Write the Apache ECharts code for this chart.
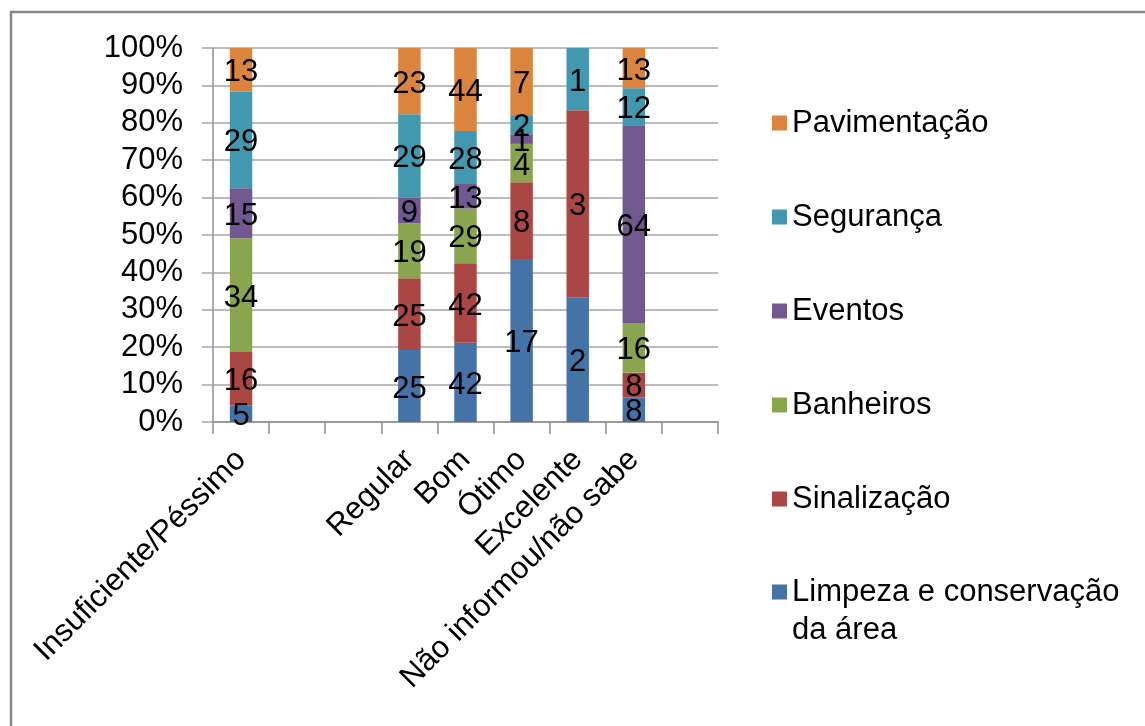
<!DOCTYPE html>
<html>
<head>
<meta charset="utf-8">
<script src="https://cdn.jsdelivr.net/npm/echarts@6/dist/echarts.min.js"></script>
<style>
  html, body { margin: 0; padding: 0; background: #ffffff; }
  #chart { width: 1145px; height: 726px; }
</style>
</head>
<body>
<div id="chart"></div>
<script>
// Ratings (blank slots keep the gap after the first group)
const categories = ['Insuficiente/Péssimo', '', '', 'Regular', 'Bom', 'Ótimo', 'Excelente', 'Não informou/não sabe', ''];

// Counts per aspect, one entry per rating (null = empty slot)
const limpeza      = [5,  null, null, 25, 42, 17, 2, 8,  null];
const sinalizacao  = [16, null, null, 25, 42, 8,  3, 8,  null];
const banheiros    = [34, null, null, 19, 29, 4,  0, 16, null];
const eventos      = [15, null, null, 9,  13, 1,  0, 64, null];
const seguranca    = [29, null, null, 29, 28, 2,  1, 12, null];
const pavimentacao = [13, null, null, 23, 44, 7,  0, 13, null];

const seriesNames = ['Limpeza e conservação da área', 'Sinalização', 'Banheiros', 'Eventos', 'Segurança', 'Pavimentação'];
const seriesCounts = [limpeza, sinalizacao, banheiros, eventos, seguranca, pavimentacao];
const seriesColors = ['#4572A7', '#AA4643', '#89A54E', '#71588F', '#4198AF', '#DB843D'];

const yTickStep = 10;

const FONT = '"Liberation Sans", Arial, sans-serif';
const FS = 31;

// Column totals, used to turn counts into shares of 100%
const totals = categories.map((_, i) =>
  seriesCounts.reduce((s, arr) => s + (arr[i] || 0), 0)
);

const series = seriesNames.map((name, k) => ({
  name: name,
  type: 'bar',
  stack: 'total',
  barWidth: '40%',
  itemStyle: { color: seriesColors[k] },
  label: {
    show: true,
    position: 'inside',
    offset: [0, 3],
    color: '#000',
    fontFamily: FONT,
    fontSize: FS,
    formatter: p => (p.data && p.data.count) ? String(p.data.count) : ''
  },
  emphasis: { disabled: true },
  data: seriesCounts[k].map((c, i) =>
    c == null ? null : { value: totals[i] ? c / totals[i] * 100 : 0, count: c }
  )
}));

const legendText = {
  color: '#000',
  fontFamily: FONT,
  fontSize: FS,
  lineHeight: 38
};

const chart = echarts.init(document.getElementById('chart'), null, { renderer: 'canvas' });
chart.setOption({
  animation: false,
  backgroundColor: '#ffffff',
  grid: { left: 213, right: 427, top: 48, bottom: 304, containLabel: false },
  xAxis: {
    type: 'category',
    data: categories,
    boundaryGap: true,
    axisLine: { show: true, lineStyle: { color: '#8f8f8f', width: 1.5 } },
    axisTick: { show: true, interval: 0, length: 12, lineStyle: { color: '#8f8f8f', width: 1.5 } },
    axisLabel: {
      interval: 0,
      rotate: 45,
      margin: 33,
      color: '#000',
      fontFamily: FONT,
      fontSize: FS
    },
    splitLine: { show: false }
  },
  yAxis: {
    type: 'value',
    min: 0,
    max: 100,
    interval: yTickStep,
    axisLine: { show: true, lineStyle: { color: '#8f8f8f', width: 1.5 } },
    axisTick: { show: true, length: 11, lineStyle: { color: '#a6a6a6', width: 1.5 } },
    axisLabel: {
      margin: 30,
      color: '#000',
      fontFamily: FONT,
      fontSize: FS,
      formatter: '{value}%'
    },
    splitLine: { show: true, lineStyle: { color: '#a6a6a6', width: 1.5 } }
  },
  legend: [
    {
      orient: 'vertical',
      left: 767,
      top: 99,
      itemWidth: 15,
      itemHeight: 15,
      itemGap: 56,
      icon: 'rect',
      selectedMode: false,
      textStyle: legendText,
      data: ['Pavimentação', 'Segurança', 'Eventos', 'Banheiros', 'Sinalização']
    },
    {
      // leading blank line keeps the marker level with the first text line
      orient: 'vertical',
      left: 767,
      top: 530,
      itemWidth: 15,
      itemHeight: 15,
      icon: 'rect',
      selectedMode: false,
      textStyle: legendText,
      formatter: n => '\n' + n.replace(' da área', '\nda área'),
      data: ['Limpeza e conservação da área']
    }
  ],
  graphic: [
    {
      type: 'rect',
      silent: true,
      shape: { x: 11, y: 12, width: 1300, height: 900 },
      style: { fill: 'none', stroke: '#878787', lineWidth: 2.5 }
    }
  ],
  series: series
});
</script>
</body>
</html>
